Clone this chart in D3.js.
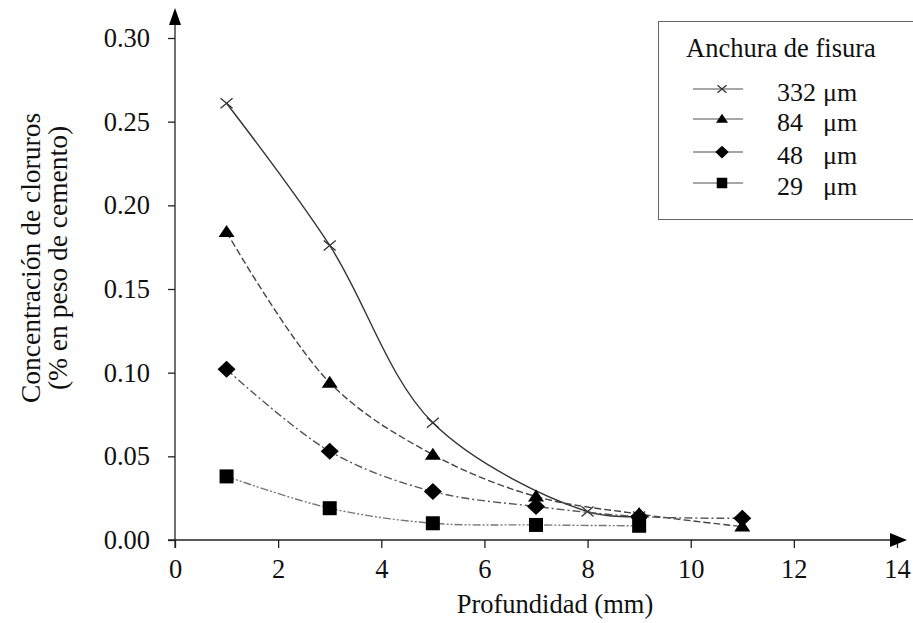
<!DOCTYPE html>
<html lang="es">
    <head>
        <meta charset="utf-8">
        <title>Concentración de cloruros</title>
        <script src="https://d3js.org/d3.v7.min.js"></script>
        <style>
        body { margin: 0; background: #fff; }
        text { font-family: "Liberation Serif", "Times New Roman", serif; fill: #111; }
        .axis path, .axis line { stroke: #222; stroke-width: 1.3; }
        .axis text { font-size: 26.5px; }
        </style>
    </head>
    <body>
        <script>
        'use strict'
        // profundidad (mm) for each series
        const x332 = [1, 3, 5, 8, 9]
        const y332 = [0.261, 0.176, 0.070, 0.017, 0.014]
        const x84 = [1, 3, 5, 7, 9, 11]
        const y84 = [0.184, 0.094, 0.051, 0.026, 0.0155, 0.008]
        const x48 = [1, 3, 5, 7, 9, 11]
        const y48 = [0.102, 0.053, 0.029, 0.020, 0.014, 0.013]
        const x29 = [1, 3, 5, 7, 9]
        const y29 = [0.038, 0.019, 0.010, 0.009, 0.0085]
        const xTicks = [0, 2, 4, 6, 8, 10, 12, 14]
        const yTicks = [0, 0.05, 0.10, 0.15, 0.20, 0.25, 0.30]
        const legendLabels = ['332', '84', '48', '29']

        const w = 913, h = 623
        const x0 = 175, y0 = 540

        let xScale = d3.scaleLinear().domain([0, 14]).range([x0, 897])
        let yScale = d3.scaleLinear().domain([0, 0.30]).range([y0, 38])

        let svg = d3.select('body').append('svg')
          .attr('width', w).attr('height', h)

        // axes
        let gx = svg.append('g').attr('class', 'axis')
          .attr('transform', 'translate(0,' + y0 + ')')
          .call(d3.axisBottom(xScale).tickValues(xTicks).tickSize(8).tickPadding(0).tickSizeOuter(0))
        gx.select('.domain').remove()
        gx.selectAll('text').attr('dy', null).attr('y', 38)

        let gy = svg.append('g').attr('class', 'axis')
          .attr('transform', 'translate(' + x0 + ',0)')
          .call(d3.axisLeft(yScale).tickValues(yTicks).tickFormat(d3.format('.2f')).tickSize(7).tickPadding(18).tickSizeOuter(0))
        gy.select('.domain').remove()

        svg.append('line').attr('x1', 168).attr('x2', 900).attr('y1', y0).attr('y2', y0)
          .attr('stroke', '#222').attr('stroke-width', 1.3)
        svg.append('line').attr('x1', x0).attr('x2', x0).attr('y1', 548).attr('y2', 14)
          .attr('stroke', '#222').attr('stroke-width', 1.3)
        svg.append('path').attr('d', `M${x0 - 6},25 L${x0},8 L${x0 + 6},25 Z`).attr('fill', '#000')
        svg.append('path').attr('d', `M890,${y0 - 7} L907,${y0} L890,${y0 + 7} Z`).attr('fill', '#000')

        // series
        const series = [
          { xs: x332, ys: y332, mark: 'x', dash: null, color: '#333' },
          { xs: x84, ys: y84, mark: 'tri', dash: '7,3', color: '#444' },
          { xs: x48, ys: y48, mark: 'dia', dash: '8,3,2,3', color: '#555' },
          { xs: x29, ys: y29, mark: 'sq', dash: '8,2,2,2,2,2', color: '#777' }
        ]

        const line = d3.line()
          .x(d => xScale(d[0])).y(d => yScale(d[1]))
          .curve(d3.curveCatmullRom.alpha(0.5))

        function drawMark(g, type, cx, cy, k) {
          if (type === 'x') {
            let a = 6 * k, b = 5 * k
            g.append('path').attr('d', `M${cx - a},${cy - b}L${cx + a},${cy + b}M${cx - a},${cy + b}L${cx + a},${cy - b}`)
              .attr('stroke', '#333').attr('stroke-width', 1.3).attr('fill', 'none')
          } else if (type === 'tri') {
            g.append('path').attr('d', `M${cx},${cy - 7 * k}L${cx + 8 * k},${cy + 5 * k}L${cx - 8 * k},${cy + 5 * k}Z`).attr('fill', '#000')
          } else if (type === 'dia') {
            g.append('path').attr('d', `M${cx},${cy - 8.5 * k}L${cx + 9 * k},${cy}L${cx},${cy + 8.5 * k}L${cx - 9 * k},${cy}Z`).attr('fill', '#000')
          } else {
            let s = 7 * k
            g.append('rect').attr('x', cx - s).attr('y', cy - s).attr('width', 2 * s).attr('height', 2 * s).attr('fill', '#000')
          }
        }

        series.forEach(s => {
          let pts = s.xs.map((v, i) => [v, s.ys[i]])
          svg.append('path').datum(pts)
            .attr('d', line)
            .attr('fill', 'none')
            .attr('stroke', s.color)
            .attr('stroke-width', 1.4)
            .attr('stroke-dasharray', s.dash)
        })
        series.forEach(s => {
          let g = svg.append('g')
          s.xs.forEach((v, i) => drawMark(g, s.mark, xScale(v), yScale(s.ys[i]), 1))
        })

        // axis titles
        svg.append('text').attr('x', 555).attr('y', 613).attr('text-anchor', 'middle')
          .attr('font-size', 26.5).text('Profundidad (mm)')
        let yt = svg.append('text').attr('transform', 'translate(40,258) rotate(-90)')
          .attr('text-anchor', 'middle').attr('font-size', 27.5)
        yt.append('tspan').attr('x', 0).attr('dy', 0).text('Concentración de cloruros')
        yt.append('tspan').attr('x', 0).attr('dy', 27).text('(% en peso de cemento)')

        // legend
        let lg = svg.append('g')
        lg.append('rect').attr('x', 658.5).attr('y', 21.5).attr('width', 270).attr('height', 198)
          .attr('fill', '#fff').attr('stroke', '#666').attr('stroke-width', 1)
        lg.append('text').attr('x', 686).attr('y', 57).attr('font-size', 26.5).text('Anchura de fisura')
        const rowY = [89, 119, 152, 183]
        series.forEach((s, i) => {
          lg.append('line').attr('x1', 693).attr('x2', 743).attr('y1', rowY[i]).attr('y2', rowY[i])
            .attr('stroke', '#888').attr('stroke-width', 1.3)
          drawMark(lg, s.mark, 722, rowY[i], 0.75)
          lg.append('text').attr('x', 777).attr('y', rowY[i] + 12).attr('font-size', 26).text(legendLabels[i])
          lg.append('text').attr('x', 823).attr('y', rowY[i] + 12).attr('font-size', 26).text('μm')
        })
        </script>
    </body>
</html>
